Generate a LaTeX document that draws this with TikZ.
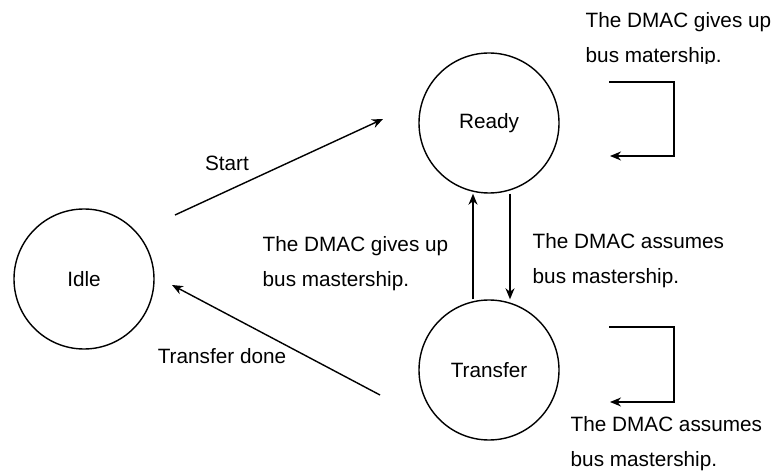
\documentclass[tikz,border=0pt]{standalone}
\usepackage{fontspec}
\setmainfont{Liberation Sans}
\usetikzlibrary{positioning, arrows.meta, calc}

\tikzset{
    state/.style={circle, draw, minimum size=2.8cm, inner sep=0pt},
    note/.style={align=left, inner sep=0pt, anchor=west}
}

\begin{document}
\begin{tikzpicture}[>={Stealth[length=2.2mm, width=1.8mm, inset=0.7mm]}, line width=0.8pt,
    font=\fontsize{11.8pt}{20pt}\selectfont]
    \useasboundingbox (0,0) rectangle (15.48,9.44);

    % Stavy
    \node[state] (idle) at (1.68,3.86) {Idle};
    \node[state] (ready) at (9.78,6.98) {Ready};
    \node[state] (transfer) at (9.78,2.04) {Transfer};

    % Idle <-> ostatni
    \coordinate (startA) at (3.50,5.14);
    \coordinate (startB) at (7.66,7.06);
    \draw[->] (startA) -- (startB);
    \node (start) at (4.54,6.18) {Start};

    \coordinate (doneA) at (7.60,1.54);
    \coordinate (doneB) at (3.44,3.74);
    \draw[->] (doneA) -- (doneB);
    \node (done) at (4.44,2.32) {Transfer done};

    % Ready <-> Transfer
    \draw[->] ([xshift=-0.32cm]transfer.north) -- ([xshift=-0.32cm]ready.south);
    \draw[->] ([xshift=0.42cm]ready.south) -- ([xshift=0.42cm]transfer.north);
    \node[note] (giveup) at (5.24,4.16) {The DMAC gives up\\bus mastership.};
    \node[note] (assume) at (10.64,4.22) {The DMAC assumes\\bus mastership.};

    % Smycky
    \coordinate (loopR) at (12.18,7.80);
    \draw[->] (loopR) -- ++(1.30,0) -- ++(0,-1.48) -- ++(-1.28,0);
    \begin{scope}
        \clip (11.5,8.17) rectangle (15.48,9.44);
        \node[note] (readytxt) at (11.70,8.65) {The DMAC gives up\\bus matership.};
    \end{scope}

    \coordinate (loopT) at (12.18,2.90);
    \draw[->] (loopT) -- ++(1.30,0) -- ++(0,-1.50) -- ++(-1.28,0);
    \node[note] (transtxt) at (11.40,0.57) {The DMAC assumes\\bus mastership.};

\end{tikzpicture}
\end{document}
